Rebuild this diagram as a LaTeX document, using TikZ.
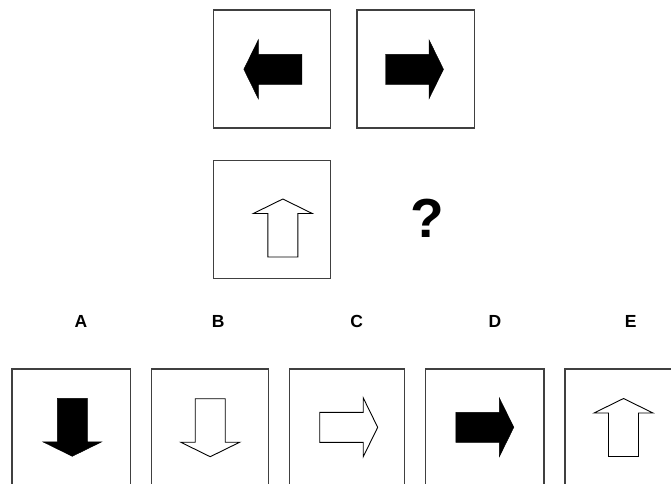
\documentclass[tikz,border=0pt]{standalone}
\usepackage{fontspec}
\setmainfont{Liberation Sans}
\begin{document}
\begin{tikzpicture}[x=1pt,y=-1pt,
  box/.style={draw=black!75,line width=1.3pt,minimum width=117.5pt,minimum height=118pt,inner sep=0pt},
  openbox/.style={draw=none,minimum width=117.5pt,minimum height=118pt,inner sep=0pt},
  lbl/.style={font=\fontsize{17.5}{20}\selectfont\bfseries,inner sep=0pt},
  solidarrow/.style={fill=black,draw=black,line width=0.4pt},
  hollowarrow/.style={fill=white,draw=black,line width=0.9pt},
  arrowshape/.pic={\path[pic actions] (-29,-15) -- (14.5,-15) -- (14.5,-29.5) -- (29,0) -- (14.5,29.5) -- (14.5,15) -- (-29,15) -- cycle;}
]
\useasboundingbox (0,0) rectangle (671,483);
\clip (0,0) rectangle (671,483);
\fill[white] (0,0) rectangle (671,483);
% top row
\node[box] (t1) at (272,69) {};
\node[box] (t2) at (415.7,69) {};
\pic[solidarrow,rotate=180] at (272.8,69.3) {arrowshape};
\pic[solidarrow] at (414.5,69.3) {arrowshape};
% middle row
\node[box] (m1) at (272,219.2) {};
\pic[hollowarrow,rotate=90] at (282.8,228) {arrowshape};
\node[font=\fontsize{55}{60}\selectfont\bfseries,inner sep=0pt] (q) at (427,218) {?};
% labels
\node[lbl] (la) at (81,321.5) {A};
\node[lbl] (lb) at (218.3,321.5) {B};
\node[lbl] (lc) at (356.7,321.5) {C};
\node[lbl] (ld) at (495,321.5) {D};
\node[lbl] (le) at (630.7,321.5) {E};
% bottom boxes (cut off at bottom edge)
\draw[draw=black!75,line width=1.3pt] (12,495) -- (12,369) -- (130.7,369) -- (130.7,495);
\draw[draw=black!75,line width=1.3pt] (151.7,495) -- (151.7,369) -- (268.3,369) -- (268.3,495);
\draw[draw=black!75,line width=1.3pt] (289.3,495) -- (289.3,369) -- (404.7,369) -- (404.7,495);
\draw[draw=black!75,line width=1.3pt] (425.7,495) -- (425.7,369) -- (544,369) -- (544,495);
\draw[draw=black!75,line width=1.3pt] (565,495) -- (565,369) -- (683,369) -- (683,495);
\node[openbox] (ba) at (71.3,428) {};
\node[openbox] (bb) at (210,428) {};
\node[openbox] (bc) at (347,428) {};
\node[openbox] (bd) at (484.8,428) {};
\node[openbox] (be) at (624,428) {};
\pic[solidarrow,rotate=-90] at (72.3,427.3) {arrowshape};
\pic[hollowarrow,rotate=-90] at (210.2,427.7) {arrowshape};
\pic[hollowarrow] at (348.7,427.3) {arrowshape};
\pic[solidarrow] at (484.8,427.3) {arrowshape};
\pic[hollowarrow,rotate=90] at (623.5,427.5) {arrowshape};
\end{tikzpicture}
\end{document}
